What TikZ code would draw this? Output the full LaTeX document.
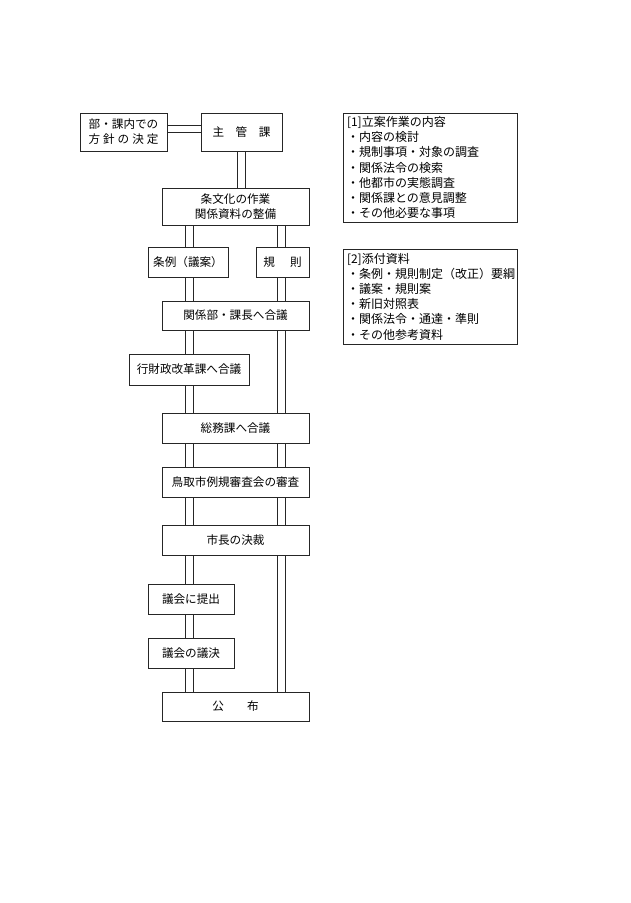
\documentclass[tikz,border=0pt]{standalone}
\usepackage{fontspec}
\setmainfont{Noto Sans CJK JP}
\usetikzlibrary{backgrounds}
\tikzstyle{box}=[draw=black!85,line width=1pt,fill=white,inner sep=0pt,minimum width=147pt,minimum height=30pt,align=center,font=\fontsize{11.6}{15}\selectfont]
\tikzstyle{memo}=[draw=black!85,line width=1pt,fill=white,inner xsep=4pt,inner ysep=0pt,text width=166pt,align=left,font=\fontsize{12}{15.2}\selectfont]

\begin{document}
\begin{tikzpicture}[x=1pt,y=-1pt,
rail/.style={draw=black!85,line width=1pt,double=white,double distance=6.5pt}]
\path[use as bounding box] (0,0) rectangle (630,903);
\coordinate (ltrunk) at (189.5,0);
\coordinate (rtrunk) at (281.5,0);
% top row
\node [box,minimum width=87pt,minimum height=38pt] (hoshin) at (123.5,132) {部・課内での\\方\hspace{3pt}針\hspace{3pt}の\hspace{3pt}決\hspace{3pt}定};
\node [box,minimum width=81pt,minimum height=38pt] (shukan) at (241.5,132) {主　管　課};
\node [box,minimum height=37pt] (jobun) at (235.5,206.5) {条文化の作業\\関係資料の整備};
% two branches
\node [box,minimum width=80pt] (jorei) at (188,262) {条例（議案）};
\node [box,minimum width=53pt] (kisoku) at (282.5,262) {規\hspace{15pt}則};
\node [box,minimum height=29pt] (kankei) at (235.5,315.5) {関係部・課長へ合議};
\node [box,minimum width=120pt,minimum height=31pt] (gyozai) at (189,369.5) {行財政改革課へ合議};
\node [box] (somu) at (235.5,428) {総務課へ合議};
\node [box] (shinsa) at (235.5,482) {鳥取市例規審査会の審査};
\node [box] (shicho) at (235.5,540) {市長の決裁};
\node [box,minimum width=86pt] (teishutsu) at (191,599) {議会に提出};
\node [box,minimum width=86pt] (giketsu) at (191,653) {議会の議決};
\node [box,minimum height=29pt] (kofu) at (235.5,706.5) {公　　布};
% notes on the right
\node [memo,minimum height=109pt] (naiyo) at (430,167.5) {[1]立案作業の内容\\・内容の検討\\・規制事項・対象の調査\\・関係法令の検索\\・他都市の実態調査\\・関係課との意見調整\\・その他必要な事項};
\node [memo,minimum height=95pt] (tenpu) at (430,296.5) {[2]添付資料\\・条例・規則制定（改正）要綱\\・議案・規則案\\・新旧対照表\\・関係法令・通達・準則\\・その他参考資料};
\begin{pgfonlayer}{background}
\fill [white] (0,0) rectangle (630,903);
\draw [rail] ([yshift=3pt]hoshin.east) -- ([yshift=3pt]hoshin.east -| shukan.west);
\draw [rail] (shukan.south) -- (shukan.south |- jobun.north);
% left trunk
\draw [rail] (jobun.south -| ltrunk) -- (jorei.north -| ltrunk);
\draw [rail] (jorei.south -| ltrunk) -- (kankei.north -| ltrunk);
\draw [rail] (kankei.south -| ltrunk) -- (gyozai.north -| ltrunk);
\draw [rail] (gyozai.south -| ltrunk) -- (somu.north -| ltrunk);
\draw [rail] (somu.south -| ltrunk) -- (shinsa.north -| ltrunk);
\draw [rail] (shinsa.south -| ltrunk) -- (shicho.north -| ltrunk);
\draw [rail] (shicho.south -| ltrunk) -- (teishutsu.north -| ltrunk);
\draw [rail] (teishutsu.south -| ltrunk) -- (giketsu.north -| ltrunk);
\draw [rail] (giketsu.south -| ltrunk) -- (kofu.north -| ltrunk);
% right trunk
\draw [rail] (jobun.south -| rtrunk) -- (kisoku.north -| rtrunk);
\draw [rail] (kisoku.south -| rtrunk) -- (kankei.north -| rtrunk);
\draw [rail] (kankei.south -| rtrunk) -- (somu.north -| rtrunk);
\draw [rail] (somu.south -| rtrunk) -- (shinsa.north -| rtrunk);
\draw [rail] (shinsa.south -| rtrunk) -- (shicho.north -| rtrunk);
\draw [rail] (shicho.south -| rtrunk) -- (kofu.north -| rtrunk);
\end{pgfonlayer}
\end{tikzpicture}
\end{document}
